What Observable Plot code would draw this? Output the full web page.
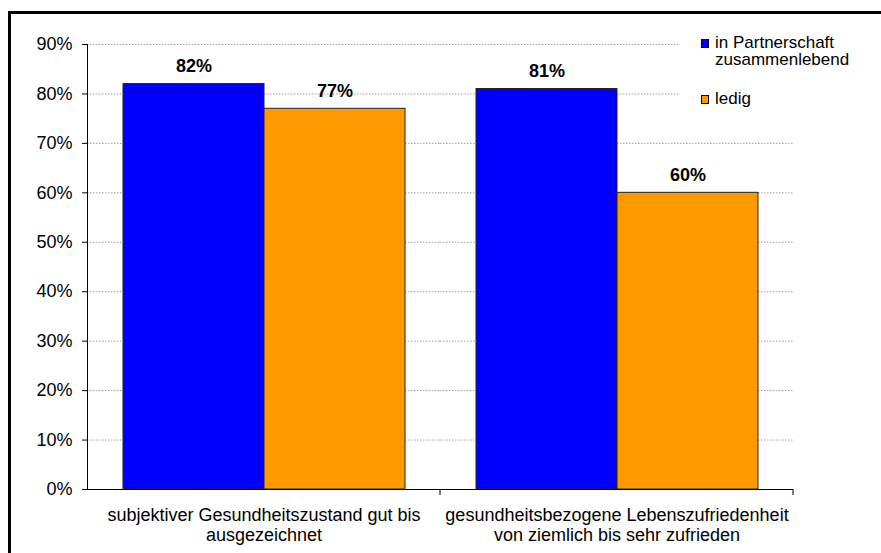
<!DOCTYPE html>
<html>
<head>
<meta charset="utf-8">
<script src="https://cdn.jsdelivr.net/npm/d3@7"></script>
<script src="https://cdn.jsdelivr.net/npm/@observablehq/plot@0.6"></script>
<style>
  html, body { margin: 0; padding: 0; background: #fff; }
  body { width: 881px; height: 553px; overflow: hidden; position: relative; font-family: "Liberation Sans", Arial, sans-serif; }
  #border { position: absolute; left: 8px; top: 11px; width: 900px; height: 600px; border-top: 3px solid #000; border-left: 3px solid #000; box-sizing: border-box; pointer-events: none; z-index: 3; }
  #chart { position: absolute; left: 0; top: 0; z-index: 1; }
  #legend { position: absolute; left: 680px; top: 28px; width: 200px; height: 82px; background: #fff; font-size: 17px; color: #000; z-index: 2; }
  .item { position: absolute; left: 35px; line-height: 16.5px; white-space: nowrap; }
  .sw { position: absolute; left: -14px; width: 6px; height: 7px; border: 1px solid #000; }
</style>
</head>
<body>
<div id="chart"></div>
<div id="legend"></div>
<div id="border"></div>
<script>
const categories = [
  "subjektiver Gesundheitszustand gut bis\nausgezeichnet",
  "gesundheitsbezogene Lebenszufriedenheit\nvon ziemlich bis sehr zufrieden"
];
const seriesNames = ["in Partnerschaft zusammenlebend", "ledig"];
const seriesLegend = ["in Partnerschaft\nzusammenlebend", "ledig"];
const seriesColors = ["#0000ff", "#ff9900"];
const partnerValues = [0.82, 0.81];
const ledigValues = [0.77, 0.60];
const yTicks = [0, 0.1, 0.2, 0.3, 0.4, 0.5, 0.6, 0.7, 0.8, 0.9];

const data = [];
categories.forEach((c, i) => {
  data.push({category: c, series: seriesNames[0], value: partnerValues[i]});
  data.push({category: c, series: seriesNames[1], value: ledigValues[i]});
});

const fmt = d3.format(".0%");

function boundaryTicks(index, scales, values, dimensions) {
  const {width, height, marginRight, marginBottom} = dimensions;
  const g = d3.create("svg:g");
  const xr = width - marginRight;
  const yb = height - marginBottom;
  g.append("line").attr("x1", xr).attr("x2", xr).attr("y1", yb).attr("y2", yb + 6)
    .attr("stroke", "#000").attr("stroke-width", 1);
  return g.node();
}

const chart = Plot.plot({
  width: 881,
  height: 553,
  marginLeft: 86,
  marginRight: 88,
  marginTop: 44,
  marginBottom: 64,
  style: {fontFamily: "'Liberation Sans', Arial, sans-serif", background: "transparent"},
  fx: {domain: categories, padding: 0, label: null},
  x: {domain: seriesNames, paddingInner: 0, paddingOuter: 0.25, axis: null},
  y: {domain: [0, 0.9], label: null},
  color: {domain: seriesNames, range: seriesColors},
  marks: [
    Plot.gridY(yTicks.filter(d => d > 0), {stroke: "#a0a0a0", strokeOpacity: 1, strokeDasharray: "1.5,1.5"}),
    Plot.axisY(yTicks, {tickFormat: fmt, tickSize: 5, tickPadding: 10, fontSize: 18, label: null, stroke: "#000"}),
    Plot.axisFx({anchor: "bottom", tickSize: 0, tickPadding: 17, fontSize: 18, lineHeight: 1.11, label: null, fill: "#000"}),
    Plot.barY(data, {fx: "category", x: "series", y: "value", fill: "series", stroke: "#222", strokeWidth: 1}),
    Plot.ruleY([0], {stroke: "#000", strokeWidth: 1.2}),
    Plot.frame({anchor: "left", facetAnchor: "left", stroke: "#000"}),
    boundaryTicks,
    Plot.text(data, {fx: "category", x: "series", y: "value", text: d => fmt(d.value), fontWeight: "bold", fontSize: 18, lineAnchor: "bottom", dy: -12, fill: "#000"})
  ]
});
document.getElementById("chart").appendChild(chart);

const legend = document.getElementById("legend");
const tops = [7, 63];
seriesLegend.forEach((name, i) => {
  const item = document.createElement("div");
  item.className = "item";
  item.style.top = tops[i] + "px";
  item.innerHTML = name.split("\n").join("<br>");
  const sw = document.createElement("div");
  sw.className = "sw";
  sw.style.top = "4px";
  sw.style.background = seriesColors[i];
  item.appendChild(sw);
  legend.appendChild(item);
});
</script>
</body>
</html>
